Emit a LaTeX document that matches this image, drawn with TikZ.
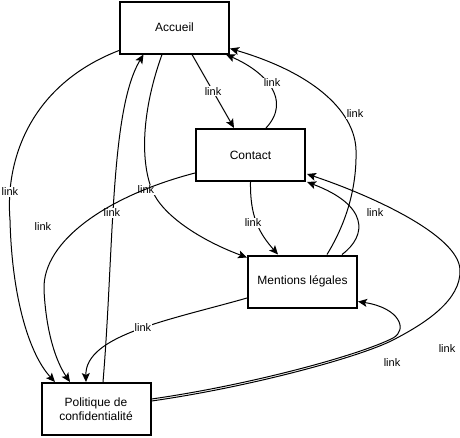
\documentclass[tikz,border=0pt]{standalone}
\usepackage{fontspec}
\setmainfont{Liberation Sans}
\usetikzlibrary{arrows.meta,calc}
\begin{document}
\begin{tikzpicture}[x=1pt,y=-1pt,
  box/.style={draw=black, line width=2pt, fill=white, minimum width=109pt, minimum height=52pt, inner sep=2pt, align=center, font=\fontsize{12}{14}\selectfont},
  edge/.style={draw=black, line width=1pt, -{Stealth[length=9pt,width=8pt,inset=2pt]}},
  lbl/.style={fill=white, inner sep=1pt, font=\fontsize{11}{13}\selectfont}]
\useasboundingbox (0,0) rectangle (460,437);

\node[box] (acc) at (174.5,27.5) {Accueil};
\node[box] (con) at (250.5,155) {Contact};
\node[box] (men) at (302.5,281.5) {Mentions légales};
\node[box] (pol) at (96,409) {Politique de\\confidentialité};

% Accueil -> Politique
\draw[edge] ($(acc.south west)+(0,-4)$) .. controls (30,85) and (5,160) .. (10,220)
  .. controls (12,300) and (30,355) .. ($(pol.north)+(-41,0)$)
  node[lbl] at (10,192) {link};
% Accueil -> Mentions
\draw[edge] ($(acc.south)+(-12.5,0)$) .. controls (142,110) and (140,160) .. (152,190)
  .. controls (162,215) and (200,240) .. ($(men.north west)+(0,3)$)
  node[lbl] at (146,190) {link};
% Politique -> Accueil
\draw[edge] ($(pol.north)+(7,0)$) .. controls (114,250) and (110,110) .. ($(acc.south)+(-31,0)$)
  node[lbl] at (112,213) {link};
% Contact -> Politique
\draw[edge] ($(con.west)+(0,18)$) .. controls (110,195) and (42,240) .. (44,290)
  .. controls (46,330) and (55,360) .. ($(pol.north)+(-26,0)$)
  node[lbl] at (43,227) {link};
% Accueil -> Contact
\draw[edge] ($(acc.south)+(17.5,0)$) -- ($(con.north)+(-16.5,0)$)
  node[lbl, midway] {link};
% Contact -> Accueil
\draw[edge] ($(con.north)+(15.5,0)$) .. controls (292,100) and (266,72) .. ($(acc.south east)+(-4,0)$)
  node[lbl] at (272,83) {link};
% Mentions -> Accueil
\draw[edge] ($(men.north)+(24.5,0)$) .. controls (345,225) and (357,190) .. (356,150)
  .. controls (355,115) and (320,75) .. ($(acc.south east)+(0,-6)$)
  node[lbl] at (355,114) {link};
% Contact -> Mentions
\draw[edge] (con.south) .. controls (250,215) and (258,232) .. ($(men.north)+(-24.5,0)$)
  node[lbl] at (253,223) {link};
% Mentions -> Contact
\draw[edge] ($(men.north)+(39.5,0)$) .. controls (368,235) and (368,205) .. ($(con.south east)+(1,0)$)
  node[lbl] at (375,213) {link};
% Mentions -> Politique
\draw[edge] ($(men.west)+(0,16.5)$) .. controls (170,320) and (85,335) .. ($(pol.north)+(-10,0)$)
  node[lbl] at (143,328) {link};
% Politique -> Mentions
\draw[edge] ($(pol.east)+(0,-10)$) .. controls (250,385) and (360,355) .. (393,338)
  .. controls (408,330) and (400,308) .. ($(men.south east)+(0,-7)$)
  node[lbl] at (392,363) {link};
% Politique -> Contact
\draw[edge] ($(pol.east)+(0,-8)$) .. controls (250,387) and (360,357) .. (393,340)
  .. controls (426,323) and (461,300) .. (460,270)
  .. controls (459,235) and (370,195) .. ($(con.east)+(1,19)$)
  node[lbl] at (447,349) {link};
\end{tikzpicture}
\end{document}
